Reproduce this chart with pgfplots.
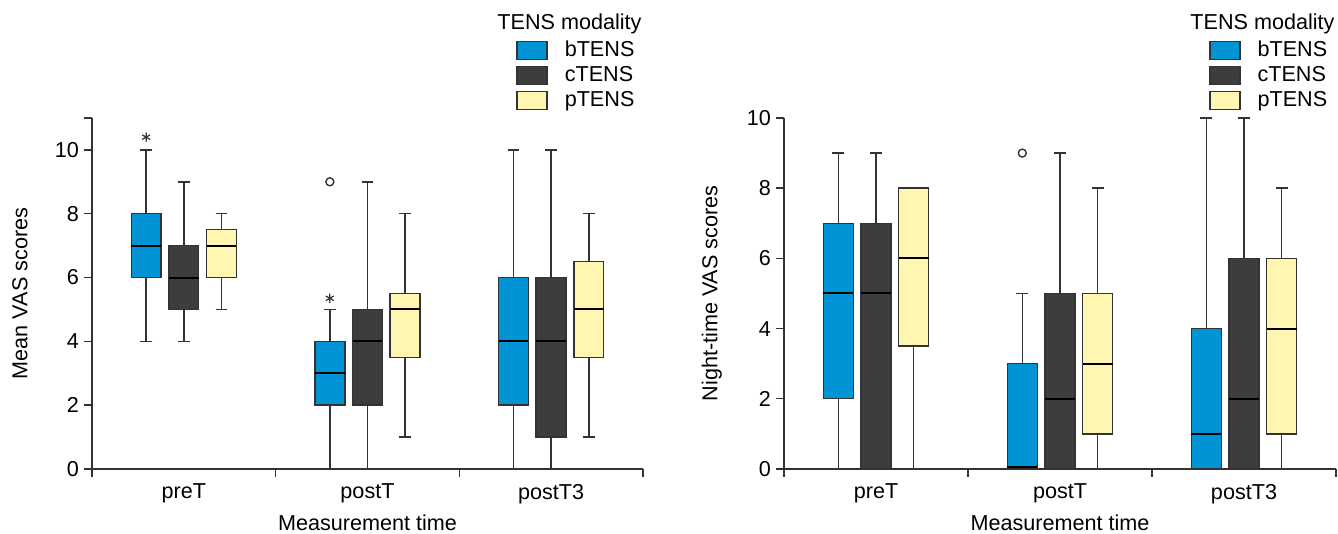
\documentclass[border=0pt]{standalone}
\usepackage{pgfplots}
\pgfplotsset{compat=1.18}
\usepgfplotslibrary{statistics}
\usepackage{fontspec}
\setmainfont{Liberation Sans}
\definecolor{bblue}{HTML}{0093D6}
\definecolor{cdark}{HTML}{3D3D3D}
\definecolor{pyel}{HTML}{FFF6B2}
\definecolor{edge}{HTML}{333333}
\newcommand{\fs}{\fontsize{10.8}{13}\selectfont}

\pgfplotsset{
  bbox/.style={fill=bblue, draw=edge, line width=0.7pt},
  cbox/.style={fill=cdark, draw=edge, line width=0.7pt},
  pbox/.style={fill=pyel, draw=edge, line width=0.7pt},
  common/.style={
    scale only axis,
    clip=false,
    height=175.5pt,
    xmin=-0.5, xmax=2.5,
    ymin=0,
    axis lines=left,
    axis line style={-, draw=edge, line width=0.7pt},
    tick align=outside,
    xtick={0,1,2},
    xticklabels={preT,postT,postT3},
    major x tick style={draw=none},
    minor xtick={-0.5,0.5,1.5,2.5},
    minor tick length=4pt,
    major tick length=4pt,
    tick style={draw=edge, line width=0.7pt},
    ytick={0,2,...,10},
    font=\fs,
    tick label style={font=\fs},
    label style={font=\fs},
    yticklabel style={xshift=1pt},
    /pgf/number format/assume math mode=true,
    xlabel={Measurement time},
    every axis x label/.style={at={(axis description cs:0.5,-0.154)}, anchor=center, font=\fs},
    every axis y label/.style={at={(axis description cs:-0.1307,0.5)}, rotate=90, anchor=center, font=\fs},
    boxplot/draw direction=y,
    boxplot/box extend=0.163,
    boxplot/whisker extend=0.065,
    boxplot/every median/.style={draw=black, line width=1pt},
    legend style={draw=none, fill=none, at={(axis description cs:0.7695,1.222)}, anchor=north west,
      inner sep=0pt, row sep=2.5pt, column sep=0pt,
      nodes={inner sep=0pt, text height=8pt, text depth=2pt},
      /tikz/every odd column/.append style={column sep=8.5pt},
      font=\fs},
    legend cell align=left,
  }
}

\begin{document}
\begin{tikzpicture}
\useasboundingbox (-46pt,-32.5pt) rectangle (623pt,234.5pt);
% ---------------- left panel ----------------
\begin{axis}[common, at={(0pt,0pt)}, anchor=south west,
  width=275.5pt, ymax=11,
  extra y ticks={11}, extra y tick labels={},
  ylabel={Mean VAS scores}]
\addlegendimage{legend image code/.code={\draw[fill=bblue,draw=edge,line width=0.7pt] (0pt,-4.5pt) rectangle (15pt,4.5pt);}}
\addlegendentry{bTENS}
\addlegendimage{legend image code/.code={\draw[fill=cdark,draw=edge,line width=0.7pt] (0pt,-4.5pt) rectangle (15pt,4.5pt);}}
\addlegendentry{cTENS}
\addlegendimage{legend image code/.code={\draw[fill=pyel,draw=edge,line width=0.7pt] (0pt,-4.5pt) rectangle (15pt,4.5pt);}}
\addlegendentry{pTENS}
% preT
\addplot[bbox, boxplot prepared={draw position=-0.205, lower whisker=4, lower quartile=6, median=7, upper quartile=8, upper whisker=10}] coordinates {};
\addplot[cbox, boxplot prepared={draw position=0, lower whisker=4, lower quartile=5, median=6, upper quartile=7, upper whisker=9}] coordinates {};
\addplot[pbox, boxplot prepared={draw position=0.205, lower whisker=5, lower quartile=6, median=7, upper quartile=7.5, upper whisker=8}] coordinates {};
% postT
\addplot[bbox, boxplot prepared={draw position=0.795, lower whisker=0, lower quartile=2, median=3, upper quartile=4, upper whisker=5}] coordinates {};
\addplot[cbox, boxplot prepared={draw position=1, lower whisker=0, lower quartile=2, median=4, upper quartile=5, upper whisker=9}] coordinates {};
\addplot[pbox, boxplot prepared={draw position=1.205, lower whisker=1, lower quartile=3.5, median=5, upper quartile=5.5, upper whisker=8}] coordinates {};
% postT3
\addplot[bbox, boxplot prepared={draw position=1.795, lower whisker=0, lower quartile=2, median=4, upper quartile=6, upper whisker=10}] coordinates {};
\addplot[cbox, boxplot prepared={draw position=2, lower whisker=0, lower quartile=1, median=4, upper quartile=6, upper whisker=10}] coordinates {};
\addplot[pbox, boxplot prepared={draw position=2.205, lower whisker=1, lower quartile=3.5, median=5, upper quartile=6.5, upper whisker=8}] coordinates {};
% outliers
\addplot[only marks, mark=o, mark size=2pt, draw=edge, line width=0.7pt] coordinates {(0.795,9)};
\addplot[only marks, mark=asterisk, mark size=2.3pt, draw=edge, line width=0.6pt] coordinates {(-0.205,10.4) (0.795,5.35)};
\node[anchor=base east, inner sep=0pt, font=\fs] at (axis description cs:0.998,1.252) {TENS modality};
\end{axis}
% ---------------- right panel ----------------
\begin{axis}[common, at={(346pt,0pt)}, anchor=south west,
  width=276pt, ymax=10,
  ylabel={Night-time VAS scores}]
\addlegendimage{legend image code/.code={\draw[fill=bblue,draw=edge,line width=0.7pt] (0pt,-4.5pt) rectangle (15pt,4.5pt);}}
\addlegendentry{bTENS}
\addlegendimage{legend image code/.code={\draw[fill=cdark,draw=edge,line width=0.7pt] (0pt,-4.5pt) rectangle (15pt,4.5pt);}}
\addlegendentry{cTENS}
\addlegendimage{legend image code/.code={\draw[fill=pyel,draw=edge,line width=0.7pt] (0pt,-4.5pt) rectangle (15pt,4.5pt);}}
\addlegendentry{pTENS}
% preT
\addplot[bbox, boxplot prepared={draw position=-0.205, lower whisker=0, lower quartile=2, median=5, upper quartile=7, upper whisker=9}] coordinates {};
\addplot[cbox, boxplot prepared={draw position=0, lower whisker=0, lower quartile=0, median=5, upper quartile=7, upper whisker=9}] coordinates {};
\addplot[pbox, boxplot prepared={draw position=0.205, lower whisker=0, lower quartile=3.5, median=6, upper quartile=8, upper whisker=8}] coordinates {};
% postT
\addplot[bbox, boxplot prepared={draw position=0.795, lower whisker=0, lower quartile=0, median=0.05, upper quartile=3, upper whisker=5}] coordinates {};
\addplot[cbox, boxplot prepared={draw position=1, lower whisker=0, lower quartile=0, median=2, upper quartile=5, upper whisker=9}] coordinates {};
\addplot[pbox, boxplot prepared={draw position=1.205, lower whisker=0, lower quartile=1, median=3, upper quartile=5, upper whisker=8}] coordinates {};
% postT3
\addplot[bbox, boxplot prepared={draw position=1.795, lower whisker=0, lower quartile=0, median=1, upper quartile=4, upper whisker=10}] coordinates {};
\addplot[cbox, boxplot prepared={draw position=2, lower whisker=0, lower quartile=0, median=2, upper quartile=6, upper whisker=10}] coordinates {};
\addplot[pbox, boxplot prepared={draw position=2.205, lower whisker=0, lower quartile=1, median=4, upper quartile=6, upper whisker=8}] coordinates {};
% outlier
\addplot[only marks, mark=o, mark size=2pt, draw=edge, line width=0.7pt] coordinates {(0.795,9)};
\node[anchor=base east, inner sep=0pt, font=\fs] at (axis description cs:0.998,1.252) {TENS modality};
\end{axis}
\end{tikzpicture}
\end{document}
